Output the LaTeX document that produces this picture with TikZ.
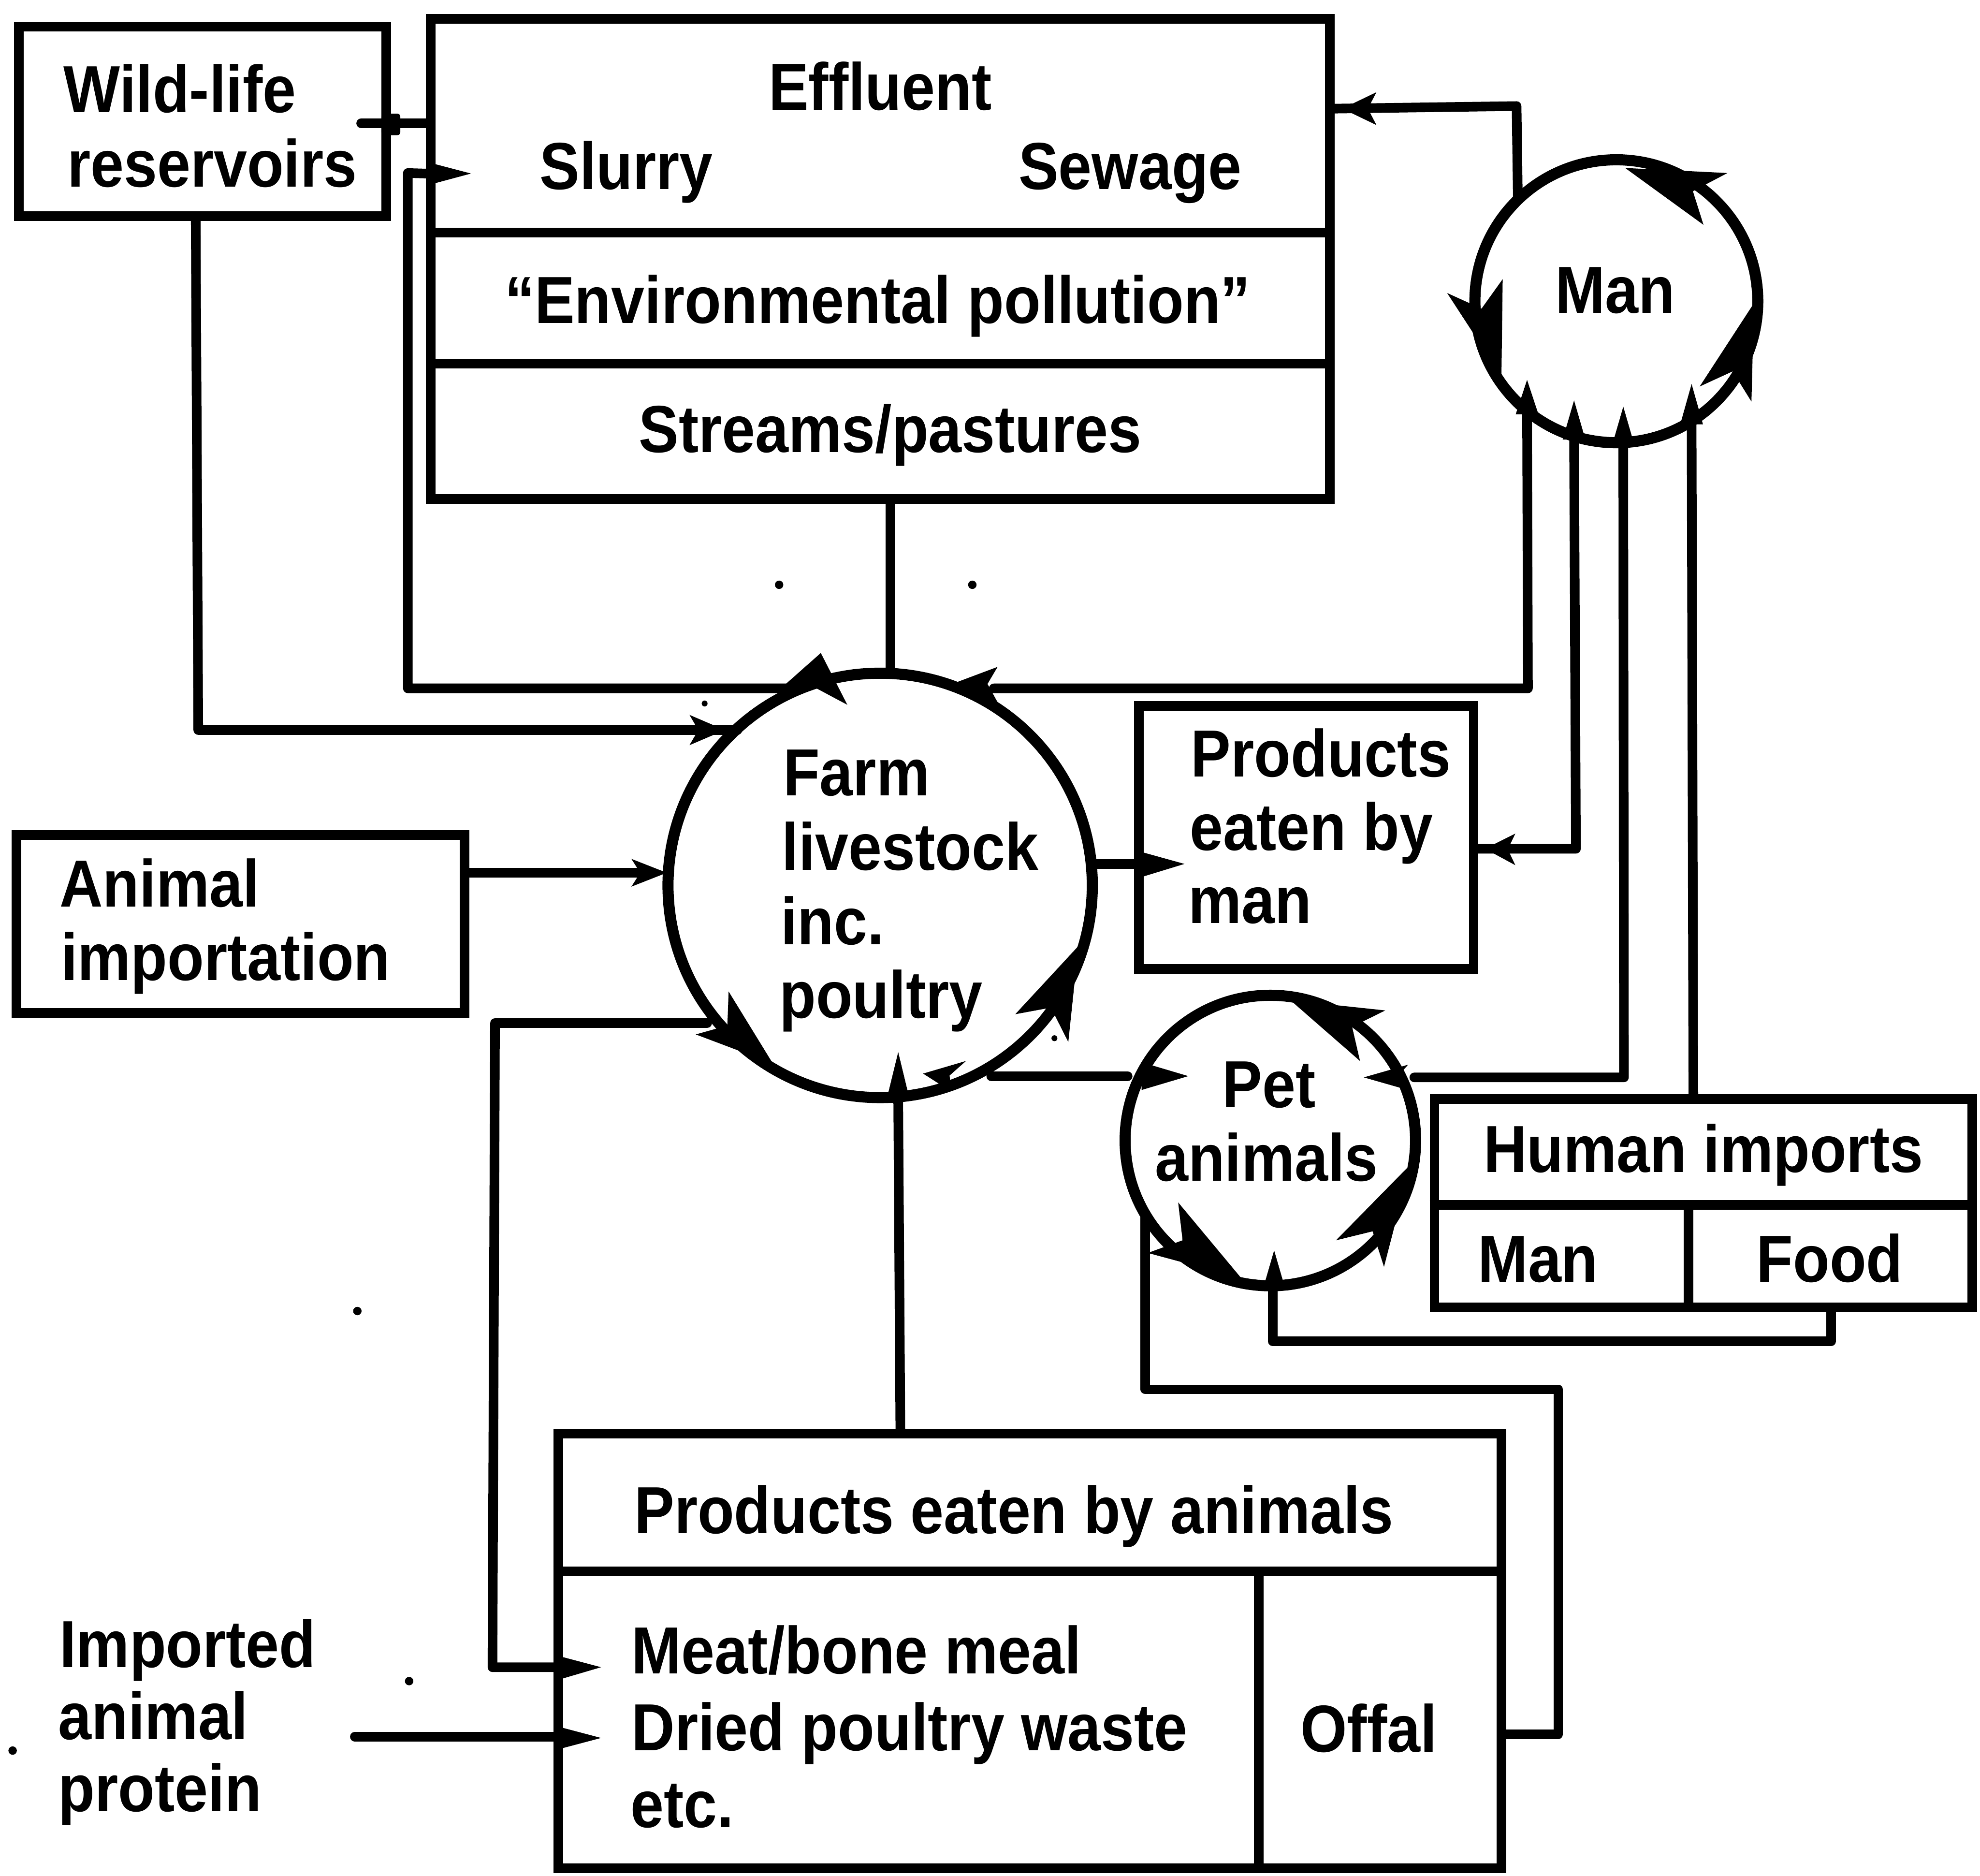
\documentclass[tikz,border=0pt]{standalone}
\usepackage{fontspec}
\setmainfont{Liberation Sans}[FakeStretch=0.9]
\usetikzlibrary{calc,fit}
\newcommand\lbfont{\fontsize{45}{54}\selectfont\bfseries}
\newcommand\headpoly[3]{\fill (#1) -- (#2) -- ($($(#2)!0.5!(#3)$)!0.25!(#1)$) -- (#3) -- cycle;}
\newcommand\spikepoly[3]{\fill (#1) -- (#2) -- (#3) -- cycle;}
\tikzset{
  boxed/.style={draw, line width=6.5pt, inner sep=0pt},
  conn/.style={line width=6.5pt, line join=round, line cap=round},
  divider/.style={line width=6.5pt, line cap=butt},
  ring/.style={draw, circle, line width=7.5pt, inner sep=0pt},
  lbl/.style={inner sep=0pt, font=\lbfont},
  speck/.style={fill, circle, inner sep=0pt, minimum size=0.2cm},
}
\begin{document}
\begin{tikzpicture}[x=0.03cm,y=-0.03cm]
\useasboundingbox (0,0) rectangle (1568,1485);
\fill[white] (0,0) rectangle (1568,1485);

% ---------- boxes ----------
\node[boxed, fit={(15,21) (306,171)}] (wild) {};
\node[boxed, fit={(341,15) (1053,395)}] (eff) {};
\node[boxed, fit={(902,559) (1167,767)}] (prodman) {};
\node[boxed, fit={(13,661) (368,802)}] (animimp) {};
\node[boxed, fit={(1136,870) (1562,1035)}] (humimp) {};
\node[boxed, fit={(442,1135) (1189,1479)}] (prodani) {};

% dividers
\draw[divider] (eff.west |- 0,184) -- (eff.east |- 0,184);
\draw[divider] (eff.west |- 0,288) -- (eff.east |- 0,288);
\draw[divider] (humimp.west |- 0,954) -- (humimp.east |- 0,954);
\draw[divider] (1337,954) -- (1337,1035);
\draw[divider] (prodani.west |- 0,1244) -- (prodani.east |- 0,1244);
\draw[divider] (997,1244) -- (997,1479);

% ---------- circles ----------
\node[ring, minimum size=10.08cm] (farm) at (697,701) {};
\node[ring, minimum size=6.72cm] (man) at (1280,238.5) {};
\node[ring, minimum size=6.9cm] (pet) at (1006,903) {};

% ---------- texts ----------
\node[lbl, anchor=base west] (wild1) at (50,89) {Wild-life};
\node[lbl, anchor=base west] (wild2) at (53,148) {reservoirs};
\node[lbl, anchor=base] (eff1) at (697,87) {Effluent};
\node[lbl, anchor=base] (eff2) at (496,150) {Slurry};
\node[lbl, anchor=base] (eff3) at (895,150) {Sewage};
\node[lbl, anchor=base] (eff4) at (695,256) {“Environmental pollution”};
\node[lbl, anchor=base] (eff5) at (705,358) {Streams/pastures};
\node[lbl, anchor=base] (man1) at (1279,248) {Man};
\node[lbl, anchor=base west] (farm1) at (620,630) {Farm};
\node[lbl, anchor=base west] (farm2) at (619,689) {livestock};
\node[lbl, anchor=base west] (farm3) at (618,748) {inc.};
\node[lbl, anchor=base west] (farm4) at (617,806) {poultry};
\node[lbl, anchor=base west] (pm1) at (943,615) {Products};
\node[lbl, anchor=base west] (pm2) at (942,673) {eaten by};
\node[lbl, anchor=base west] (pm3) at (941,731) {man};
\node[lbl, anchor=base west] (ai1) at (47,718) {Animal};
\node[lbl, anchor=base west] (ai2) at (48,776) {importation};
\node[lbl, anchor=base] (pet1) at (1005,877) {Pet};
\node[lbl, anchor=base] (pet2) at (1003,935) {animals};
\node[lbl, anchor=base] (hi1) at (1349,928) {Human imports};
\node[lbl, anchor=base] (hi2) at (1218,1015) {Man};
\node[lbl, anchor=base] (hi3) at (1449,1015) {Food};
\node[lbl, anchor=base] (pa1) at (803,1214) {Products eaten by animals};
\node[lbl, anchor=base west] (pa2) at (500,1325) {Meat/bone meal};
\node[lbl, anchor=base west] (pa3) at (500,1386) {Dried poultry waste};
\node[lbl, anchor=base west] (pa4) at (499,1447) {etc.};
\node[lbl, anchor=base] (pa5) at (1084,1387) {Offal};
\node[lbl, anchor=base west] (imp1) at (47,1320) {Imported};
\node[lbl, anchor=base west] (imp2) at (46,1377) {animal};
\node[lbl, anchor=base west] (imp3) at (46,1434) {protein};

% ---------- connectors ----------
% Effluent -- Wild-life
\coordinate (wildE) at (286,97.6);
\draw[conn] (wildE) -- (eff.west |- wildE);
\fill[rounded corners=2] (302,90) rectangle (317,107);

% left loop: Farm -> Effluent (slurry)
\coordinate (slurryIn) at (372,137.4);
\draw[conn] (eff.west |- slurryIn) -- (323,137) -- (323,545) -- (628,545);
\spikepoly{373,137.4}{341,129}{341,146}
\headpoly{650,517}{615,548}{671,558}

% right loop: Man -- Farm
\draw[conn] (787,545) -- (1210,545) -- (1209.3,327);
\headpoly{758,540}{790,528}{790,556}

% Wild-life -> Farm
\draw[conn] (wild.south -| 155,0) -- (157,578) -- (584,578);
\headpoly{574,578}{546,566}{546,590}

% Streams -> Farm
\draw[conn] (eff.south -| 705,0) -- (farm.north -| 705,0);

% Man -> Effluent
\draw[conn] (1202,157) -- (1201,84) -- (eff.east |- 0,86);
\headpoly{1063,86}{1090,73}{1090,99}

% Products eaten by man <- Man
\draw[conn] (1246.5,346) -- (1248,672) -- (prodman.east |- 0,672);
\headpoly{1176,672}{1200,660}{1200,685}

% Pet <- Man
\draw[conn] (1285.5,351) -- (1286,853) -- (1120,853);
\headpoly{1080,853}{1115,843}{1115,863}

% Human imports -> Man
\draw[conn] (1339.6,334) -- (humimp.north -| 1341,0);

% spikes into Man
\spikepoly{1209.3,300.8}{1200.3,328}{1218.3,328}
\spikepoly{1246.5,317}{1237.5,348}{1255.5,348}
\spikepoly{1285.5,322}{1276.5,353}{1294.5,353}
\spikepoly{1339.6,304}{1330.6,336}{1348.6,336}

% arrowheads on Man
\headpoly{1287,133}{1368,137}{1349,178}
\headpoly{1189,298}{1146,232}{1190,221}
\headpoly{1389,240}{1346,306}{1387,318}

% Animal importation -> Farm
\draw[conn] (animimp.east |- 0,691) -- (512,691);
\headpoly{528,691}{500,680}{500,702}

% Farm -> Products eaten by man
\draw[conn] (866,684) -- (prodman.west |- 0,684);
\spikepoly{938,684}{902,674}{902,695}

% Farm -- Pet
\draw[conn] (785,852) -- (893,852);
\headpoly{731,850}{765,840}{753,864}
\spikepoly{941,852}{904,841}{904,863}

% Pet -> Human imports food
\draw[conn] (1008,1019) -- (1008,1062) -- (1450,1062) -- (humimp.south -| 1450,0);
\spikepoly{1009,990}{1000,1021}{1018,1021}

% Offal -> Pet
\draw[conn] (prodani.east |- 0,1373) -- (1234,1373) -- (1234,1100) -- (907,1100) -- (907,961);

% Meat/bone meal loop
\draw[conn] (prodani.west |- 0,1320) -- (390,1320) -- (392,810) -- (560,810);
\spikepoly{476,1320}{442,1311}{442,1330}

% Imported animal protein
\draw[conn] (281,1375) -- (prodani.west |- 0,1375);
\spikepoly{476,1376}{442,1367}{442,1385}

% Products eaten by animals -> Farm
\draw[conn] (prodani.north -| 713,0) -- (711.3,869);
\spikepoly{711.3,833}{702,871}{720.5,871}

% arrowheads on Farm
\headpoly{612,842}{577,785}{551,819}
\headpoly{854,749}{804,803}{846,825}

% arrowheads on Pet
\headpoly{1022,792}{1097,800}{1077,840}
\headpoly{983,1012}{933,952}{909,992}
\headpoly{1117,922}{1058,982}{1096,1003}

% specks
\node[speck] (s1) at (617,463) {};
\node[speck] (s2) at (770,463) {};
\node[speck] (s3) at (283,1038) {};
\node[speck] (s4) at (324,1331) {};
\node[speck] (s5) at (10,1386) {};
\node[speck, minimum size=0.14cm] (s6) at (558,557) {};
\node[speck, minimum size=0.14cm] (s7) at (835,822) {};
\end{tikzpicture}
\end{document}
